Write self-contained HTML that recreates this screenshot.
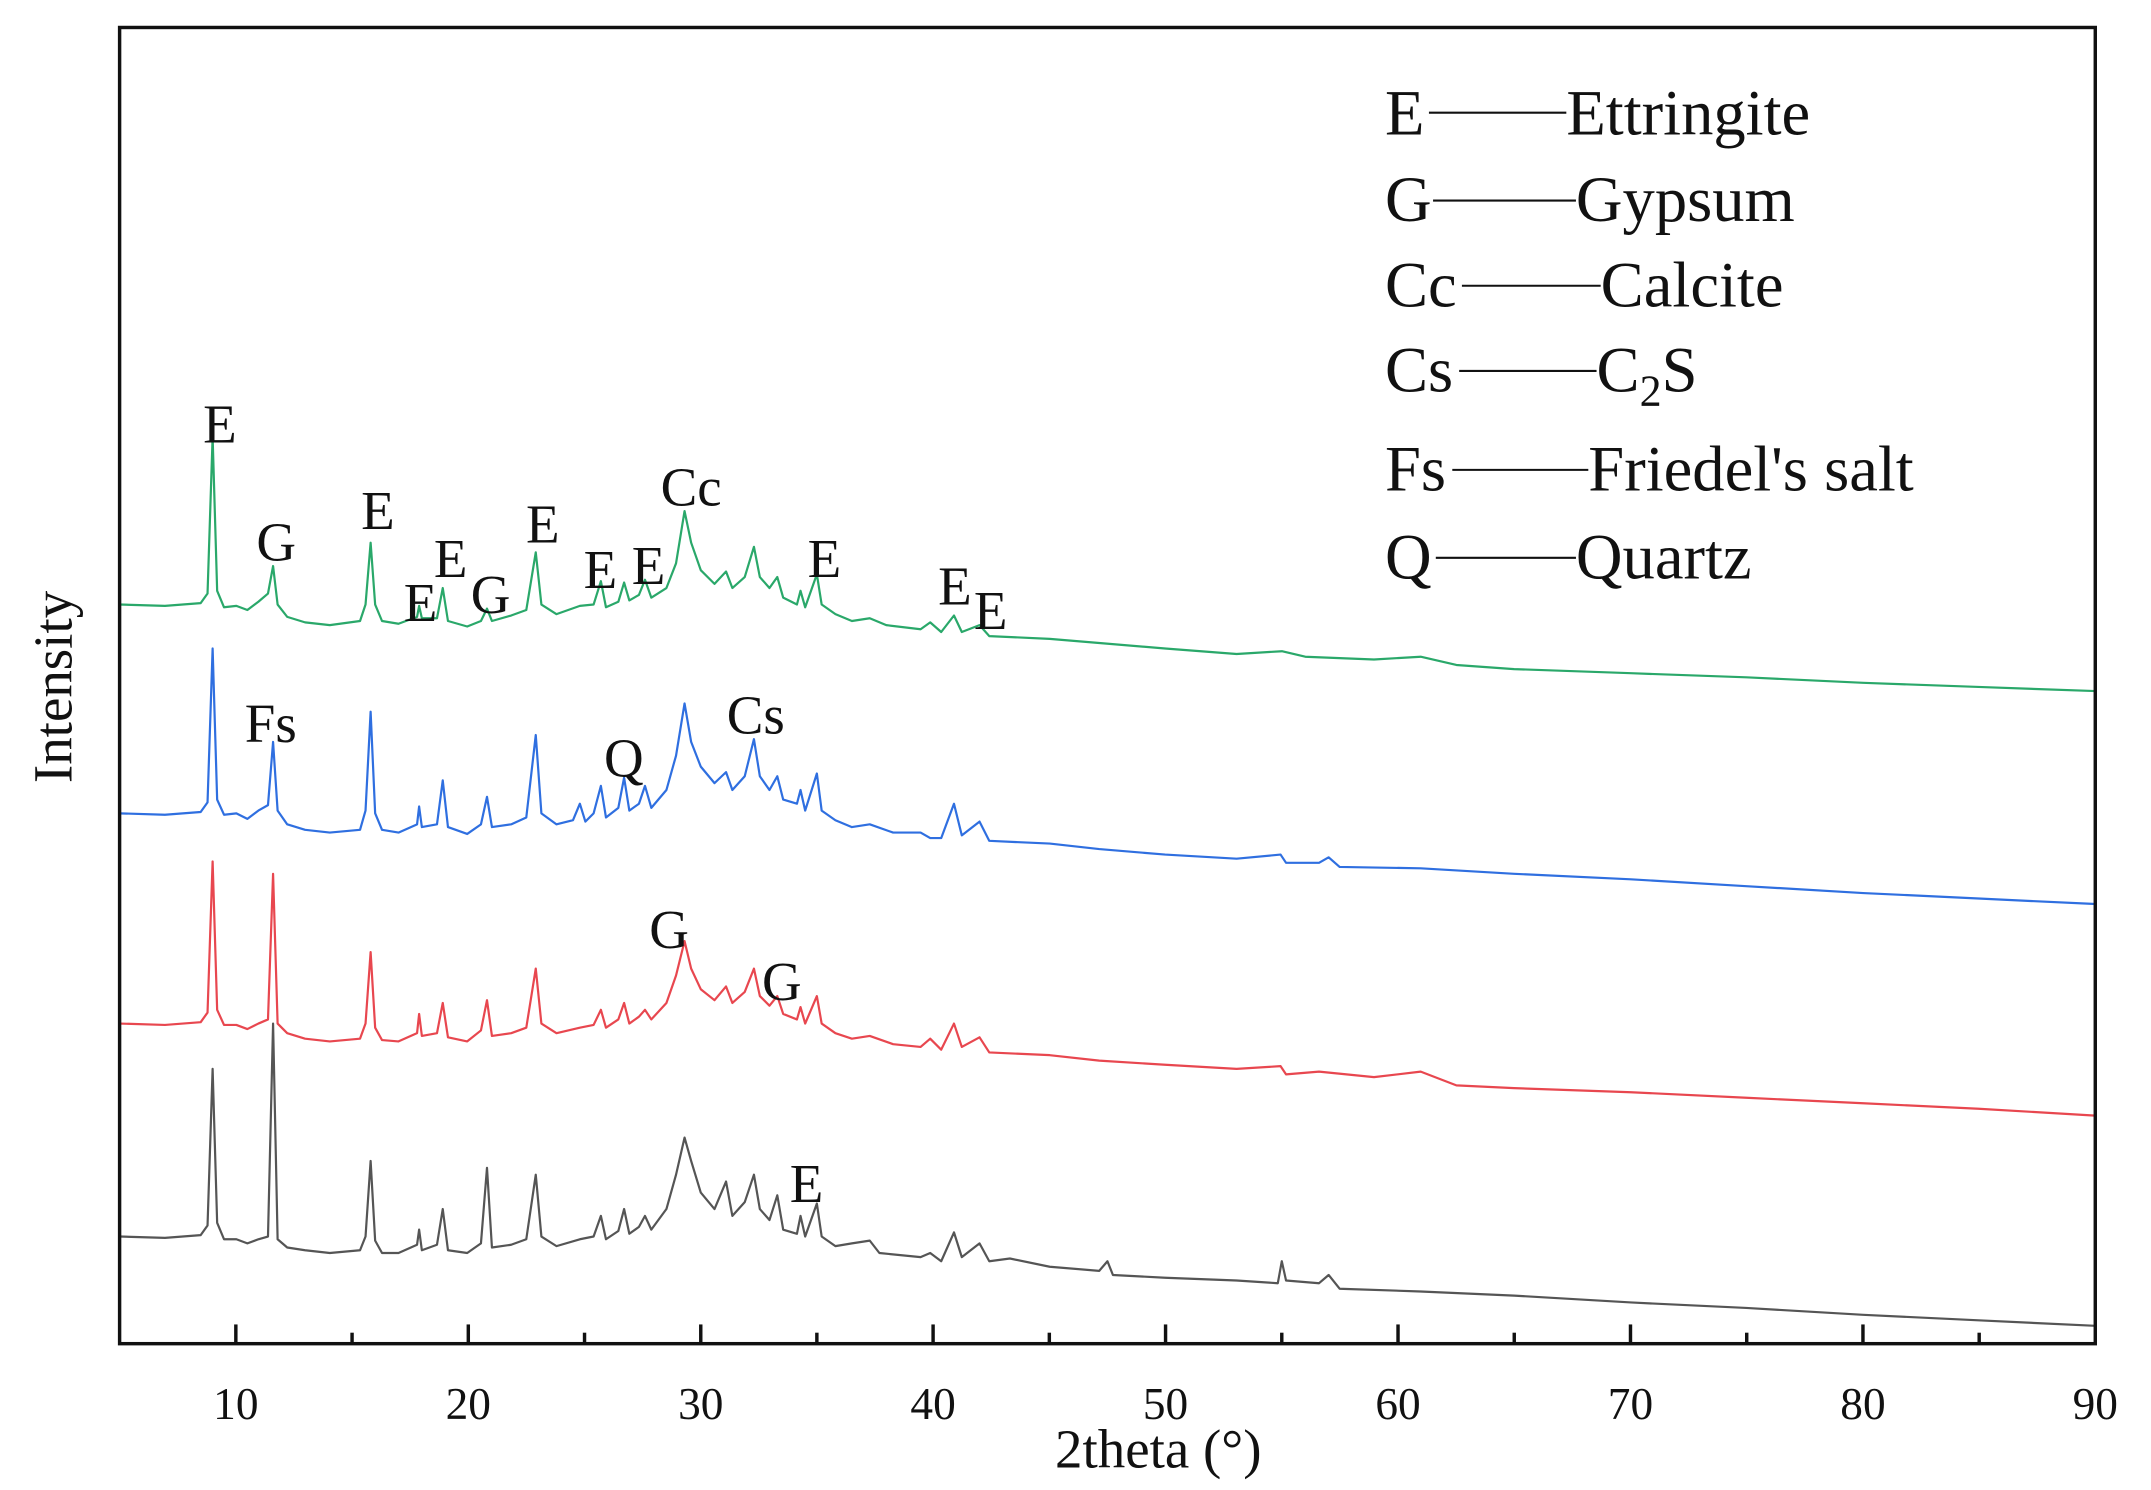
<!DOCTYPE html>
<html><head><meta charset="utf-8"><style>
html,body{margin:0;padding:0;background:#fff;}
svg{display:block;}
text{font-family:"Liberation Serif",serif;fill:#111;}
</style></head><body>
<svg width="2151" height="1490" viewBox="0 0 1565.5 1084.5" xmlns="http://www.w3.org/2000/svg">
<rect width="1565.5" height="1084.5" fill="#fff"/>
<g fill="none" stroke-width="1.6" stroke-linejoin="round">
<path stroke="#2aa86a" d="M87 440 L120 441 L146 439 L151 432 L154.7 318 L158 430 L163 442 L172 441 L180 444 L188 438 L195 432 L198.7 412 L202 440 L209 449 L222 453 L240 455 L262 452 L266 440 L269.7 395 L273 440 L278 452 L290 454 L303.5 449 L305 441 L307 450 L318 450 L322.2 428 L326 452 L340 456 L350 452 L354.4 443 L358 452 L372 448 L383 444 L389.9 402 L394 440 L405 447 L422 441 L432 440 L437.3 423 L441 442 L450 438 L454.2 424 L458 437 L465 433 L469.4 422 L474 435 L485 428 L492 410 L498.2 372 L503 395 L510 415 L520 425 L528.4 416 L533 428 L542 420 L548.7 398 L553 420 L560 428 L565.7 420 L570 435 L580 440 L582.6 430 L586 442 L594.5 418 L598 440 L608 447 L620 452 L633 450 L645 455 L670 458 L677 453 L685 460 L694.3 448 L700 460 L712.9 455 L720 463 L764 465 L800 468 L848 472 L900 476 L933 474 L950 478 L1000 480 L1034 478 L1060 484 L1102 487 L1187 490 L1271 493 L1356 497 L1440 500 L1525 503"/>
<path stroke="#2f6fe0" d="M87 592 L120 593 L146 591 L151 584 L154.7 472 L158 582 L163 593 L172 592 L180 596 L188 590 L195 586 L198.7 540 L202 590 L209 600 L222 604 L240 606 L262 604 L266 590 L269.7 518 L273 592 L278 604 L290 606 L303.5 600 L305 587 L307 602 L318 600 L322.2 568 L326 602 L340 607 L350 600 L354.4 580 L358 602 L372 600 L383 595 L389.9 535 L394 592 L405 600 L417 597 L422 585 L426 598 L432 592 L437.3 572 L441 595 L450 588 L454.2 566 L458 590 L465 585 L469.4 572 L474 588 L485 575 L492 550 L498.2 512 L503 540 L510 558 L520 570 L528.4 562 L533 575 L542 565 L548.7 538 L553 565 L560 575 L565.7 565 L570 582 L580 585 L582.6 575 L586 590 L594.5 563 L598 590 L608 597 L620 602 L633 600 L650 606 L670 606 L677 610 L685 610 L694.3 585 L700 608 L712.9 598 L720 612 L764 614 L800 618 L848 622 L900 625 L932 622 L936 628 L960 628 L967 624 L975 631 L1034 632 L1102 636 L1187 640 L1271 645 L1356 650 L1440 654 L1525 658"/>
<path stroke="#e8474f" d="M87 745 L120 746 L146 744 L151 737 L154.7 627 L158 735 L163 746 L172 746 L180 749 L188 745 L195 742 L198.7 636 L202 745 L209 752 L222 756 L240 758 L262 756 L266 745 L269.7 693 L273 748 L278 757 L290 758 L303.5 752 L305 738 L307 754 L318 752 L322.2 730 L326 755 L340 758 L350 750 L354.4 728 L358 754 L372 752 L383 748 L389.9 705 L394 745 L405 752 L422 748 L432 746 L437.3 735 L441 748 L450 742 L454.2 730 L458 745 L465 740 L469.4 735 L474 742 L485 730 L492 710 L498.2 685 L503 705 L510 720 L520 728 L528.4 718 L533 730 L542 722 L548.7 705 L553 725 L560 732 L565.7 725 L570 738 L580 742 L582.6 733 L586 745 L594.5 725 L598 745 L608 752 L620 756 L633 754 L650 760 L670 762 L677 756 L685 764 L694.3 745 L700 762 L712.9 755 L720 766 L764 768 L800 772 L848 775 L900 778 L932 776 L936 782 L960 780 L1000 784 L1034 780 L1060 790 L1102 792 L1187 795 L1271 799 L1356 803 L1440 807 L1525 812"/>
<path stroke="#555555" d="M87 900 L120 901 L146 899 L151 892 L154.7 778 L158 890 L163 902 L172 902 L180 905 L188 902 L195 900 L198.7 745 L202 902 L209 908 L222 910 L240 912 L262 910 L266 900 L269.7 845 L273 903 L278 912 L290 912 L303.5 906 L305 895 L307 910 L318 906 L322.2 880 L326 910 L340 912 L350 905 L354.4 850 L358 908 L372 906 L383 902 L389.9 855 L394 900 L405 907 L422 902 L432 900 L437.3 885 L441 902 L450 896 L454.2 880 L458 898 L465 893 L469.4 885 L474 895 L485 880 L492 855 L498.2 828 L503 845 L510 868 L520 880 L528.4 860 L533 885 L542 875 L548.7 855 L553 880 L560 888 L565.7 870 L570 895 L580 898 L582.6 885 L586 900 L594.5 876 L598 900 L608 907 L620 905 L633 903 L640 912 L670 915 L677 912 L685 918 L694.3 897 L700 915 L712.9 905 L720 918 L735 916 L764 922 L800 925 L806 918 L810 928 L848 930 L900 932 L930 934 L932.9 918 L936 932 L960 934 L967 928 L975 938 L1034 940 L1102 943 L1187 948 L1271 952 L1356 957 L1440 961 L1525 965"/>
</g>
<rect x="87" y="20" width="1438" height="958" fill="none" stroke="#111" stroke-width="2.5"/>
<g stroke="#111" stroke-width="2.5">
<line x1="171.6" y1="978" x2="171.6" y2="964"/><line x1="256.2" y1="978" x2="256.2" y2="970"/>
<line x1="340.8" y1="978" x2="340.8" y2="964"/><line x1="425.4" y1="978" x2="425.4" y2="970"/>
<line x1="510" y1="978" x2="510" y2="964"/><line x1="594.5" y1="978" x2="594.5" y2="970"/>
<line x1="679.1" y1="978" x2="679.1" y2="964"/><line x1="763.7" y1="978" x2="763.7" y2="970"/>
<line x1="848.3" y1="978" x2="848.3" y2="964"/><line x1="932.9" y1="978" x2="932.9" y2="970"/>
<line x1="1017.5" y1="978" x2="1017.5" y2="964"/><line x1="1102.1" y1="978" x2="1102.1" y2="970"/>
<line x1="1186.7" y1="978" x2="1186.7" y2="964"/><line x1="1271.3" y1="978" x2="1271.3" y2="970"/>
<line x1="1355.9" y1="978" x2="1355.9" y2="964"/><line x1="1440.5" y1="978" x2="1440.5" y2="970"/>
</g>
<g font-size="33" text-anchor="middle">
<text x="171.6" y="1033">10</text><text x="340.8" y="1033">20</text><text x="510" y="1033">30</text>
<text x="679.1" y="1033">40</text><text x="848.3" y="1033">50</text><text x="1017.5" y="1033">60</text>
<text x="1186.7" y="1033">70</text><text x="1355.9" y="1033">80</text><text x="1525" y="1033">90</text>
</g>
<text x="843" y="1068" font-size="40" text-anchor="middle">2theta (°)</text>
<text transform="translate(52,500) rotate(-90)" font-size="40" text-anchor="middle">Intensity</text>
<g font-size="40" text-anchor="middle">
<text x="160" y="322">E</text><text x="201" y="408">G</text><text x="275" y="385">E</text>
<text x="306" y="452">E</text><text x="328" y="420">E</text><text x="357" y="446">G</text>
<text x="395" y="395">E</text><text x="437" y="428">E</text><text x="472" y="425">E</text>
<text x="503" y="368">Cc</text><text x="600" y="420">E</text><text x="695" y="440">E</text>
<text x="721" y="458">E</text>
<text x="197" y="540">Fs</text><text x="454" y="565">Q</text><text x="550" y="534">Cs</text>
<text x="487" y="690">G</text><text x="569" y="728">G</text><text x="587" y="875">E</text>
</g>
<g font-size="47" stroke="#111" stroke-width="1.5">
<text x="1008" y="98" stroke="none">E</text><line x1="1040" y1="82" x2="1140" y2="82"/><text x="1140" y="98" stroke="none">Ettringite</text>
<text x="1008" y="161" stroke="none">G</text><line x1="1043" y1="146" x2="1147" y2="146"/><text x="1147" y="161" stroke="none">Gypsum</text>
<text x="1008" y="223" stroke="none">Cc</text><line x1="1064" y1="208" x2="1165" y2="208"/><text x="1165" y="223" stroke="none">Calcite</text>
<text x="1008" y="285" stroke="none">Cs</text><line x1="1062" y1="270" x2="1162" y2="270"/><text x="1162" y="285" stroke="none">C<tspan font-size="32" dy="10">2</tspan><tspan dy="-10">S</tspan></text>
<text x="1008" y="357" stroke="none">Fs</text><line x1="1057" y1="342" x2="1156" y2="342"/><text x="1156" y="357" stroke="none">Friedel's salt</text>
<text x="1008" y="421" stroke="none">Q</text><line x1="1045" y1="406" x2="1147" y2="406"/><text x="1147" y="421" stroke="none">Quartz</text>
</g>
</svg>
</body></html>
